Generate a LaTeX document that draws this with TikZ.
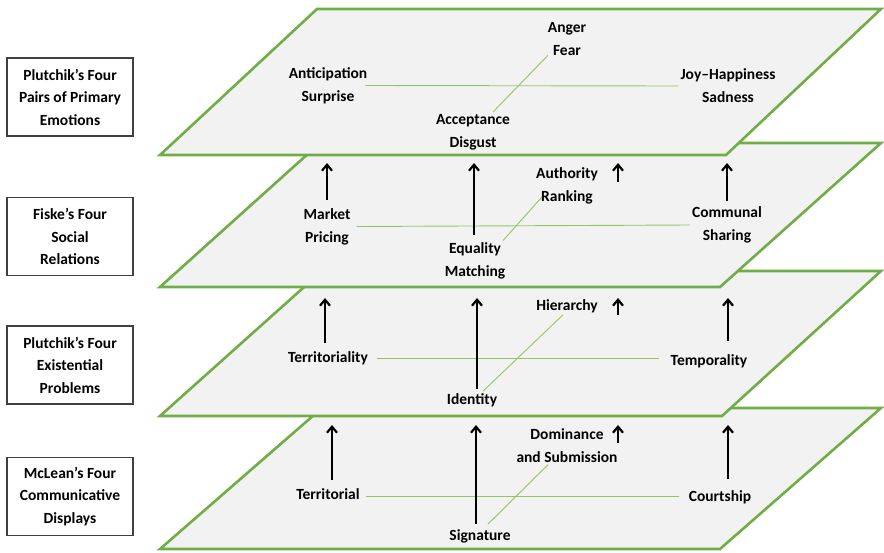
\documentclass[tikz,border=0pt]{standalone}
\usepackage{fontspec}
\setmainfont{Carlito}
\usetikzlibrary{arrows.meta}
\definecolor{planegreen}{RGB}{112,173,71}
\definecolor{linkgreen}{RGB}{150,195,100}
\begin{document}
\begin{tikzpicture}[x=1pt, y=-1pt,
    plane/.style={draw=planegreen, line width=2.6pt, fill=black!5, line join=miter},
    lbl/.style={font=\fontsize{15.5}{23}\selectfont\bfseries, align=center, inner sep=2pt},
    box/.style={draw=black!75, line width=1.2pt, fill=white, minimum width=126pt,
        minimum height=78pt, align=center, font=\fontsize{15.5}{22.5}\selectfont\bfseries},
    link/.style={draw=linkgreen, line width=0.9pt},
    up/.style={-{Straight Barb[length=6pt,width=10pt]}, line width=2.2pt}
]
    \useasboundingbox (0,0) rectangle (884,552);

    % Planes, drawn from the bottom one up so each covers the one below
    \draw[plane] (160,549) -- (720,549) -- (881,408) -- (322,408) -- cycle;
    \draw[plane] (160,416) -- (722,416) -- (881,271) -- (322,271) -- cycle;
    \draw[plane] (160,287) -- (720,287) -- (881,143) -- (320,143) -- cycle;
    \draw[plane] (160,155) -- (726,155) -- (881,9) -- (317,9) -- cycle;

    % Edges the arrows point at
    \coordinate (p1) at (0,163);
    \coordinate (p2) at (0,298);
    \coordinate (p3) at (0,425);

    % Left-hand titles
    \node[box] (t1) at (70,97) {Plutchik’s Four\\Pairs of Primary\\Emotions};
    \node[box] (t2) at (70,236.5) {Fiske’s Four\\Social\\Relations};
    \node[box] (t3) at (70,365) {Plutchik’s Four\\Existential\\Problems};
    \node[box] (t4) at (70,496.5) {McLean’s Four\\Communicative\\Displays};

    % Primary emotions
    \node[lbl] (ant) at (328,85.5) {Anticipation\\Surprise};
    \node[lbl] (ang) at (567,39.5) {Anger\\Fear};
    \node[lbl] (joy) at (728,86) {Joy–Happiness\\Sadness};
    \node[lbl] (acc) at (473,132) {Acceptance\\Disgust};
    \draw[link] ([xshift=-4pt]ant.east) -- (joy.west);
    \draw[link] ([xshift=20pt]acc.north) -- ([xshift=-19pt,yshift=3pt]ang.south);

    % Social relations
    \node[lbl] (mkt) at (327,226.5) {Market\\Pricing};
    \node[lbl] (auth) at (567,185.5) {Authority\\Ranking};
    \node[lbl] (com) at (727,225) {Communal\\Sharing};
    \node[lbl] (eq) at (475,261) {Equality\\Matching};
    \draw[link] ([xshift=4pt]mkt.east) -- (com.west);
    \draw[link] ([xshift=28pt]eq.north) -- ([xshift=-25pt,yshift=9pt]auth.south);

    % Existential problems
    \node[lbl] (ter) at (328,358) {Territoriality};
    \node[lbl] (hie) at (567,306) {Hierarchy};
    \node[lbl] (tem) at (709,361) {Temporality};
    \node[lbl] (ide) at (472,400) {Identity};
    \draw[link] ([xshift=7pt]ter.east) -- ([xshift=-10pt,yshift=3pt]tem.west);
    \draw[link] ([xshift=11pt]ide.north) -- ([xshift=-4pt]hie.south);

    % Communicative displays
    \node[lbl] (trl) at (328,494) {Territorial};
    \node[lbl] (dom) at (567,445.5) {Dominance\\and Submission};
    \node[lbl] (cou) at (720,497) {Courtship};
    \node[lbl] (sig) at (480,536) {Signature};
    \draw[link] ([xshift=4pt,yshift=-2pt]trl.east) -- ([xshift=-8pt,yshift=1pt]cou.west);
    \draw[link] ([xshift=8pt,yshift=3pt]sig.north) -- ([xshift=-19pt]dom.south);

    % Arrows up to the plane above
    \coordinate (s1) at (618,182);
    \coordinate (s2) at (618,315);
    \coordinate (s3) at (618,443);
    \draw[up] ([yshift=6pt]mkt.north) -- (mkt.north |- p1);
    \draw[up] ([xshift=-1pt,yshift=6pt]eq.north) -- ([xshift=-1pt]eq.north |- p1);
    \draw[up] (s1) -- (s1 |- p1);
    \draw[up] ([yshift=4pt]com.north) -- (com.north |- p1);

    \draw[up] ([xshift=-3pt,yshift=6pt]ter.north) -- ([xshift=-3pt]ter.north |- p2);
    \draw[up] ([xshift=5pt,yshift=2pt]ide.north) -- ([xshift=5pt]ide.north |- p2);
    \draw[up] (s2) -- (s2 |- p2);
    \draw[up] ([xshift=19pt,yshift=11pt]tem.north) -- ([xshift=19pt]tem.north |- p2);

    \draw[up] ([xshift=4pt,yshift=6pt]trl.north) -- ([xshift=4pt]trl.north |- p3);
    \draw[up] ([xshift=-4pt,yshift=3pt]sig.north) -- ([xshift=-4pt]sig.north |- p3);
    \draw[up] (s3) -- (s3 |- p3);
    \draw[up] ([xshift=8pt,yshift=9pt]cou.north) -- ([xshift=8pt]cou.north |- p3);
\end{tikzpicture}
\end{document}
